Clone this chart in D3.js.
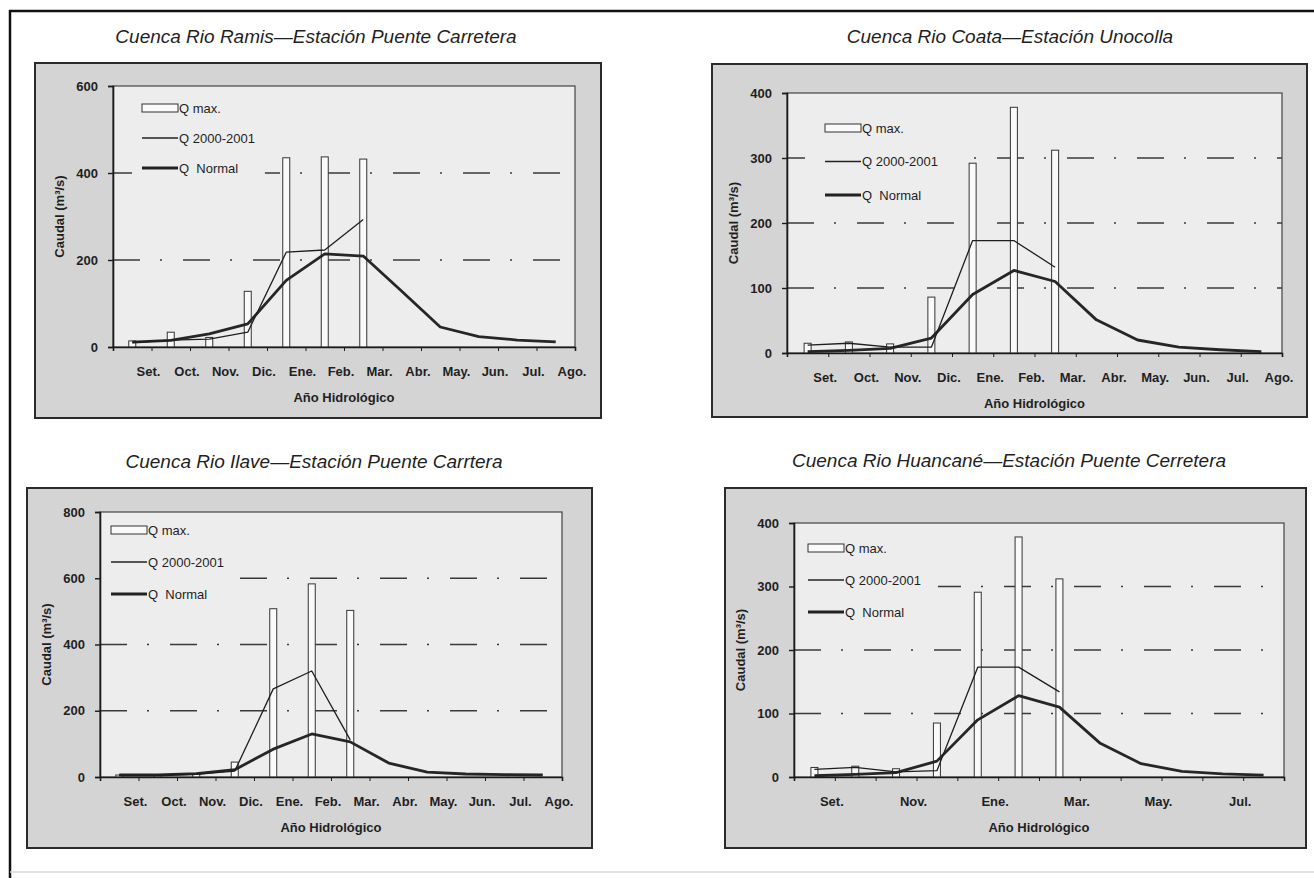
<!DOCTYPE html>
<html>
<head>
<meta charset="utf-8">
<script src="https://cdn.jsdelivr.net/npm/d3@7"></script>
<style>
  body { margin: 0; background: #fff; }
  svg { display: block; font-family: "Liberation Sans", Arial, sans-serif; }
</style>
</head>
<body>
<svg id="fig" width="1314" height="878"></svg>
<script>
// ---- data ----
const months = ['Set.', 'Oct.', 'Nov.', 'Dic.', 'Ene.', 'Feb.', 'Mar.', 'Abr.', 'May.', 'Jun.', 'Jul.', 'Ago.'];
const legendLabels = ['Q max.', 'Q 2000-2001', 'Q  Normal'];

// Cuenca Rio Ramis
const ramisTitle  = 'Cuenca Rio Ramis\u2014Estación Puente Carretera';
const ramisTicks  = [0, 200, 400, 600];
const ramisQmax   = [14, 34, 22, 128, 435, 437, 432];
const ramisQ2000  = [10, 16, 18, 34, 218, 223, 293];
const ramisNormal = [11, 15, 30, 53, 153, 214, 209, 128, 46, 24, 16, 12];

// Cuenca Rio Coata
const coataTitle  = 'Cuenca Rio Coata\u2014Estación Unocolla';
const coataTicks  = [0, 100, 200, 300, 400];
const coataQmax   = [15, 17, 14, 86, 292, 378, 312];
const coataQ2000  = [12, 15, 9, 9, 173, 173, 132];
const coataNormal = [2, 4, 7, 23, 90, 127, 110, 51, 20, 9, 5, 2];

// Cuenca Rio Ilave
const ilaveTitle  = 'Cuenca Rio Ilave\u2014Estación Puente Carrtera';
const ilaveTicks  = [0, 200, 400, 600, 800];
const ilaveQmax   = [6, 5, 10, 45, 508, 583, 503];
const ilaveQ2000  = [5, 5, 8, 18, 266, 320, 112];
const ilaveNormal = [6, 6, 10, 22, 84, 130, 106, 42, 15, 9, 7, 6];

// Cuenca Rio Huancane
const huancaneTitle  = 'Cuenca Rio Huancané\u2014Estación Puente Cerretera';
const huancaneTicks  = [0, 100, 200, 300, 400];
const huancaneLabels = ['Set.', 'Nov.', 'Ene.', 'Mar.', 'May.', 'Jul.'];
const huancaneQmax   = [15, 17, 13, 85, 291, 378, 312];
const huancaneQ2000  = [12, 15, 8, 10, 173, 173, 134];
const huancaneNormal = [2, 4, 7, 25, 90, 128, 110, 53, 21, 9, 5, 3];

// ---- layout (pixels) ----
const BOX_BG = '#d4d4d4';
const PLOT_BG = '#ededed';
const INK = '#1f1f1f';

const panels = [
    { title: ramisTitle, ticks: ramisTicks, qmax: ramisQmax, q2000: ramisQ2000, normal: ramisNormal,
      labels: months,
      box: [35, 63, 601, 418], plot: [113, 86, 575, 347], titlePos: [316, 36],
      legend: { x: 142, y: 108, dy: 30, padL: 10, padR: 10 } },
    { title: coataTitle, ticks: coataTicks, qmax: coataQmax, q2000: coataQ2000, normal: coataNormal,
      labels: months,
      box: [712, 64, 1307, 417], plot: [787, 93, 1282, 353], titlePos: [1010, 36],
      legend: { x: 825, y: 128, dy: 33.5, padL: 20, padR: 19 } },
    { title: ilaveTitle, ticks: ilaveTicks, qmax: ilaveQmax, q2000: ilaveQ2000, normal: ilaveNormal,
      labels: months,
      box: [27, 488, 592, 848], plot: [100, 512, 562, 777], titlePos: [314, 461],
      legend: { x: 111, y: 530, dy: 32, padL: 11, padR: 10 } },
    { title: huancaneTitle, ticks: huancaneTicks, qmax: huancaneQmax, q2000: huancaneQ2000, normal: huancaneNormal,
      labels: huancaneLabels,
      box: [725, 488, 1306, 848], plot: [794, 523, 1284, 777], titlePos: [1009, 460],
      legend: { x: 808, y: 548, dy: 32, padL: 14, padR: 17 } }
];

const svg = d3.select('#fig');

// outer frame of the figure
svg.append('line').attr('x1', 9).attr('y1', 11).attr('x2', 1314).attr('y2', 11)
    .attr('stroke', '#111').attr('stroke-width', 2.5);
svg.append('line').attr('x1', 10).attr('y1', 10).attr('x2', 10).attr('y2', 878)
    .attr('stroke', '#111').attr('stroke-width', 2.5);
svg.append('line').attr('x1', 10).attr('y1', 872).attr('x2', 1314).attr('y2', 872)
    .attr('stroke', '#d8d8d8').attr('stroke-width', 1.5);

function drawPanel(p) {
    const g = svg.append('g');
    const [bx0, by0, bx1, by1] = p.box;
    const [px0, py0, px1, py1] = p.plot;

    // title
    g.append('text')
        .attr('x', p.titlePos[0]).attr('y', p.titlePos[1])
        .attr('text-anchor', 'middle').attr('dominant-baseline', 'central')
        .attr('font-size', 19).attr('font-style', 'italic').attr('fill', INK)
        .text(p.title);

    // chart box
    g.append('rect')
        .attr('x', bx0).attr('y', by0).attr('width', bx1 - bx0).attr('height', by1 - by0)
        .attr('fill', BOX_BG).attr('stroke', '#2b2b2b').attr('stroke-width', 2);

    const x = d3.scaleBand().domain(months).range([px0, px1]);
    const xb = d3.scaleLinear().domain([0, months.length]).range([px0, px1]);
    const y = d3.scaleLinear().domain([0, d3.max(p.ticks)]).range([py1, py0]);
    const cx = (d, i) => x(months[i]) + x.bandwidth() / 2;

    // plot area
    g.append('rect')
        .attr('x', px0).attr('y', py0).attr('width', px1 - px0).attr('height', py1 - py0)
        .attr('fill', PLOT_BG);

    // dash-dot grid lines
    g.append('g')
        .selectAll('line')
        .data(p.ticks.slice(1, -1))
        .join('line')
        .attr('x1', px0).attr('x2', px1)
        .attr('y1', d => y(d)).attr('y2', d => y(d))
        .attr('stroke', '#3a3a3a').attr('stroke-width', 1.4)
        .attr('stroke-dasharray', '27,20,2,21');

    // legend (opaque, hides grid lines behind it)
    const L = p.legend;
    const lg = g.append('g').attr('transform', `translate(${L.x},${L.y})`);
    const bg = lg.append('rect').attr('fill', PLOT_BG);
    const rows = lg.selectAll('g.row').data(legendLabels).join('g')
        .attr('class', 'row')
        .attr('transform', (d, i) => `translate(0,${i * L.dy})`);
    rows.filter((d, i) => i === 0).append('rect')
        .attr('x', 0).attr('y', -4).attr('width', 36).attr('height', 8)
        .attr('fill', '#fafafa').attr('stroke', '#333').attr('stroke-width', 1);
    rows.filter((d, i) => i > 0).append('line')
        .attr('x1', 0).attr('x2', 36).attr('y1', 0).attr('y2', 0)
        .attr('stroke', '#222').attr('stroke-width', (d, i) => i === 0 ? 1.3 : 2.8);
    const texts = rows.append('text')
        .attr('x', 37).attr('dominant-baseline', 'central')
        .attr('font-size', 13).attr('fill', INK)
        .style('white-space', 'pre')
        .text(d => d);
    const maxW = d3.max(texts.nodes(), n => n.getComputedTextLength());
    bg.attr('x', -L.padL).attr('y', -16)
        .attr('width', L.padL + 37 + maxW + L.padR)
        .attr('height', (legendLabels.length - 1) * L.dy + 32);

    // plot border
    g.append('rect')
        .attr('x', px0).attr('y', py0).attr('width', px1 - px0).attr('height', py1 - py0)
        .attr('fill', 'none').attr('stroke', '#444').attr('stroke-width', 1.2);

    // Q max bars
    g.append('g')
        .selectAll('rect')
        .data(p.qmax)
        .join('rect')
        .attr('x', (d, i) => cx(d, i) - 3.5).attr('width', 7)
        .attr('y', d => y(d)).attr('height', d => y(0) - y(d))
        .attr('fill', '#fafafa').attr('stroke', '#333').attr('stroke-width', 1);

    const line = d3.line().x(cx).y(d => y(d));

    g.append('path').datum(p.normal)
        .attr('d', line).attr('fill', 'none')
        .attr('stroke', '#262626').attr('stroke-width', 2.8)
        .attr('stroke-linejoin', 'round');
    g.append('path').datum(p.q2000)
        .attr('d', line).attr('fill', 'none')
        .attr('stroke', '#1e1e1e').attr('stroke-width', 1.3)
        .attr('stroke-linejoin', 'round');

    // y axis
    g.append('g')
        .attr('transform', `translate(${px0},0)`)
        .call(d3.axisLeft(y).tickValues(p.ticks).tickSize(5).tickPadding(10).tickFormat(d3.format('d')))
        .call(a => a.select('.domain').attr('stroke', '#1a1a1a').attr('stroke-width', 1.6))
        .call(a => a.selectAll('.tick line').attr('stroke', '#1a1a1a').attr('stroke-width', 1.4))
        .call(a => a.selectAll('text').attr('font-family', null).attr('font-size', 13)
            .attr('font-weight', 'bold').attr('fill', INK));

    // x axis: ticks on month boundaries
    g.append('g')
        .attr('transform', `translate(0,${py1})`)
        .call(d3.axisBottom(xb).tickValues(d3.range(months.length + 1)).tickSize(4).tickFormat(''))
        .call(a => a.select('.domain').attr('stroke', '#1a1a1a').attr('stroke-width', 1.6))
        .call(a => a.selectAll('.tick line').attr('stroke', '#1a1a1a'));

    // x labels sit near the right edge of each month
    g.append('g')
        .attr('transform', `translate(${x.bandwidth() / 2 - 3},${py1})`)
        .call(d3.axisBottom(x).tickValues(p.labels).tickSize(0).tickPadding(20))
        .call(a => a.select('.domain').remove())
        .call(a => a.selectAll('text').attr('font-family', null).attr('font-size', 13)
            .attr('font-weight', 'bold').attr('fill', INK));

    // axis titles
    g.append('text')
        .attr('x', (px0 + px1) / 2).attr('y', py1 + 50)
        .attr('text-anchor', 'middle').attr('dominant-baseline', 'central')
        .attr('font-size', 13).attr('font-weight', 'bold').attr('fill', INK)
        .text('Año Hidrológico');
    g.append('text')
        .attr('transform', `translate(${px0 - 54},${(py0 + py1) / 2}) rotate(-90)`)
        .attr('text-anchor', 'middle').attr('dominant-baseline', 'central')
        .attr('font-size', 13).attr('font-weight', 'bold').attr('fill', INK)
        .text('Caudal (m³/s)');
}

panels.forEach(drawPanel);
</script>
</body>
</html>
